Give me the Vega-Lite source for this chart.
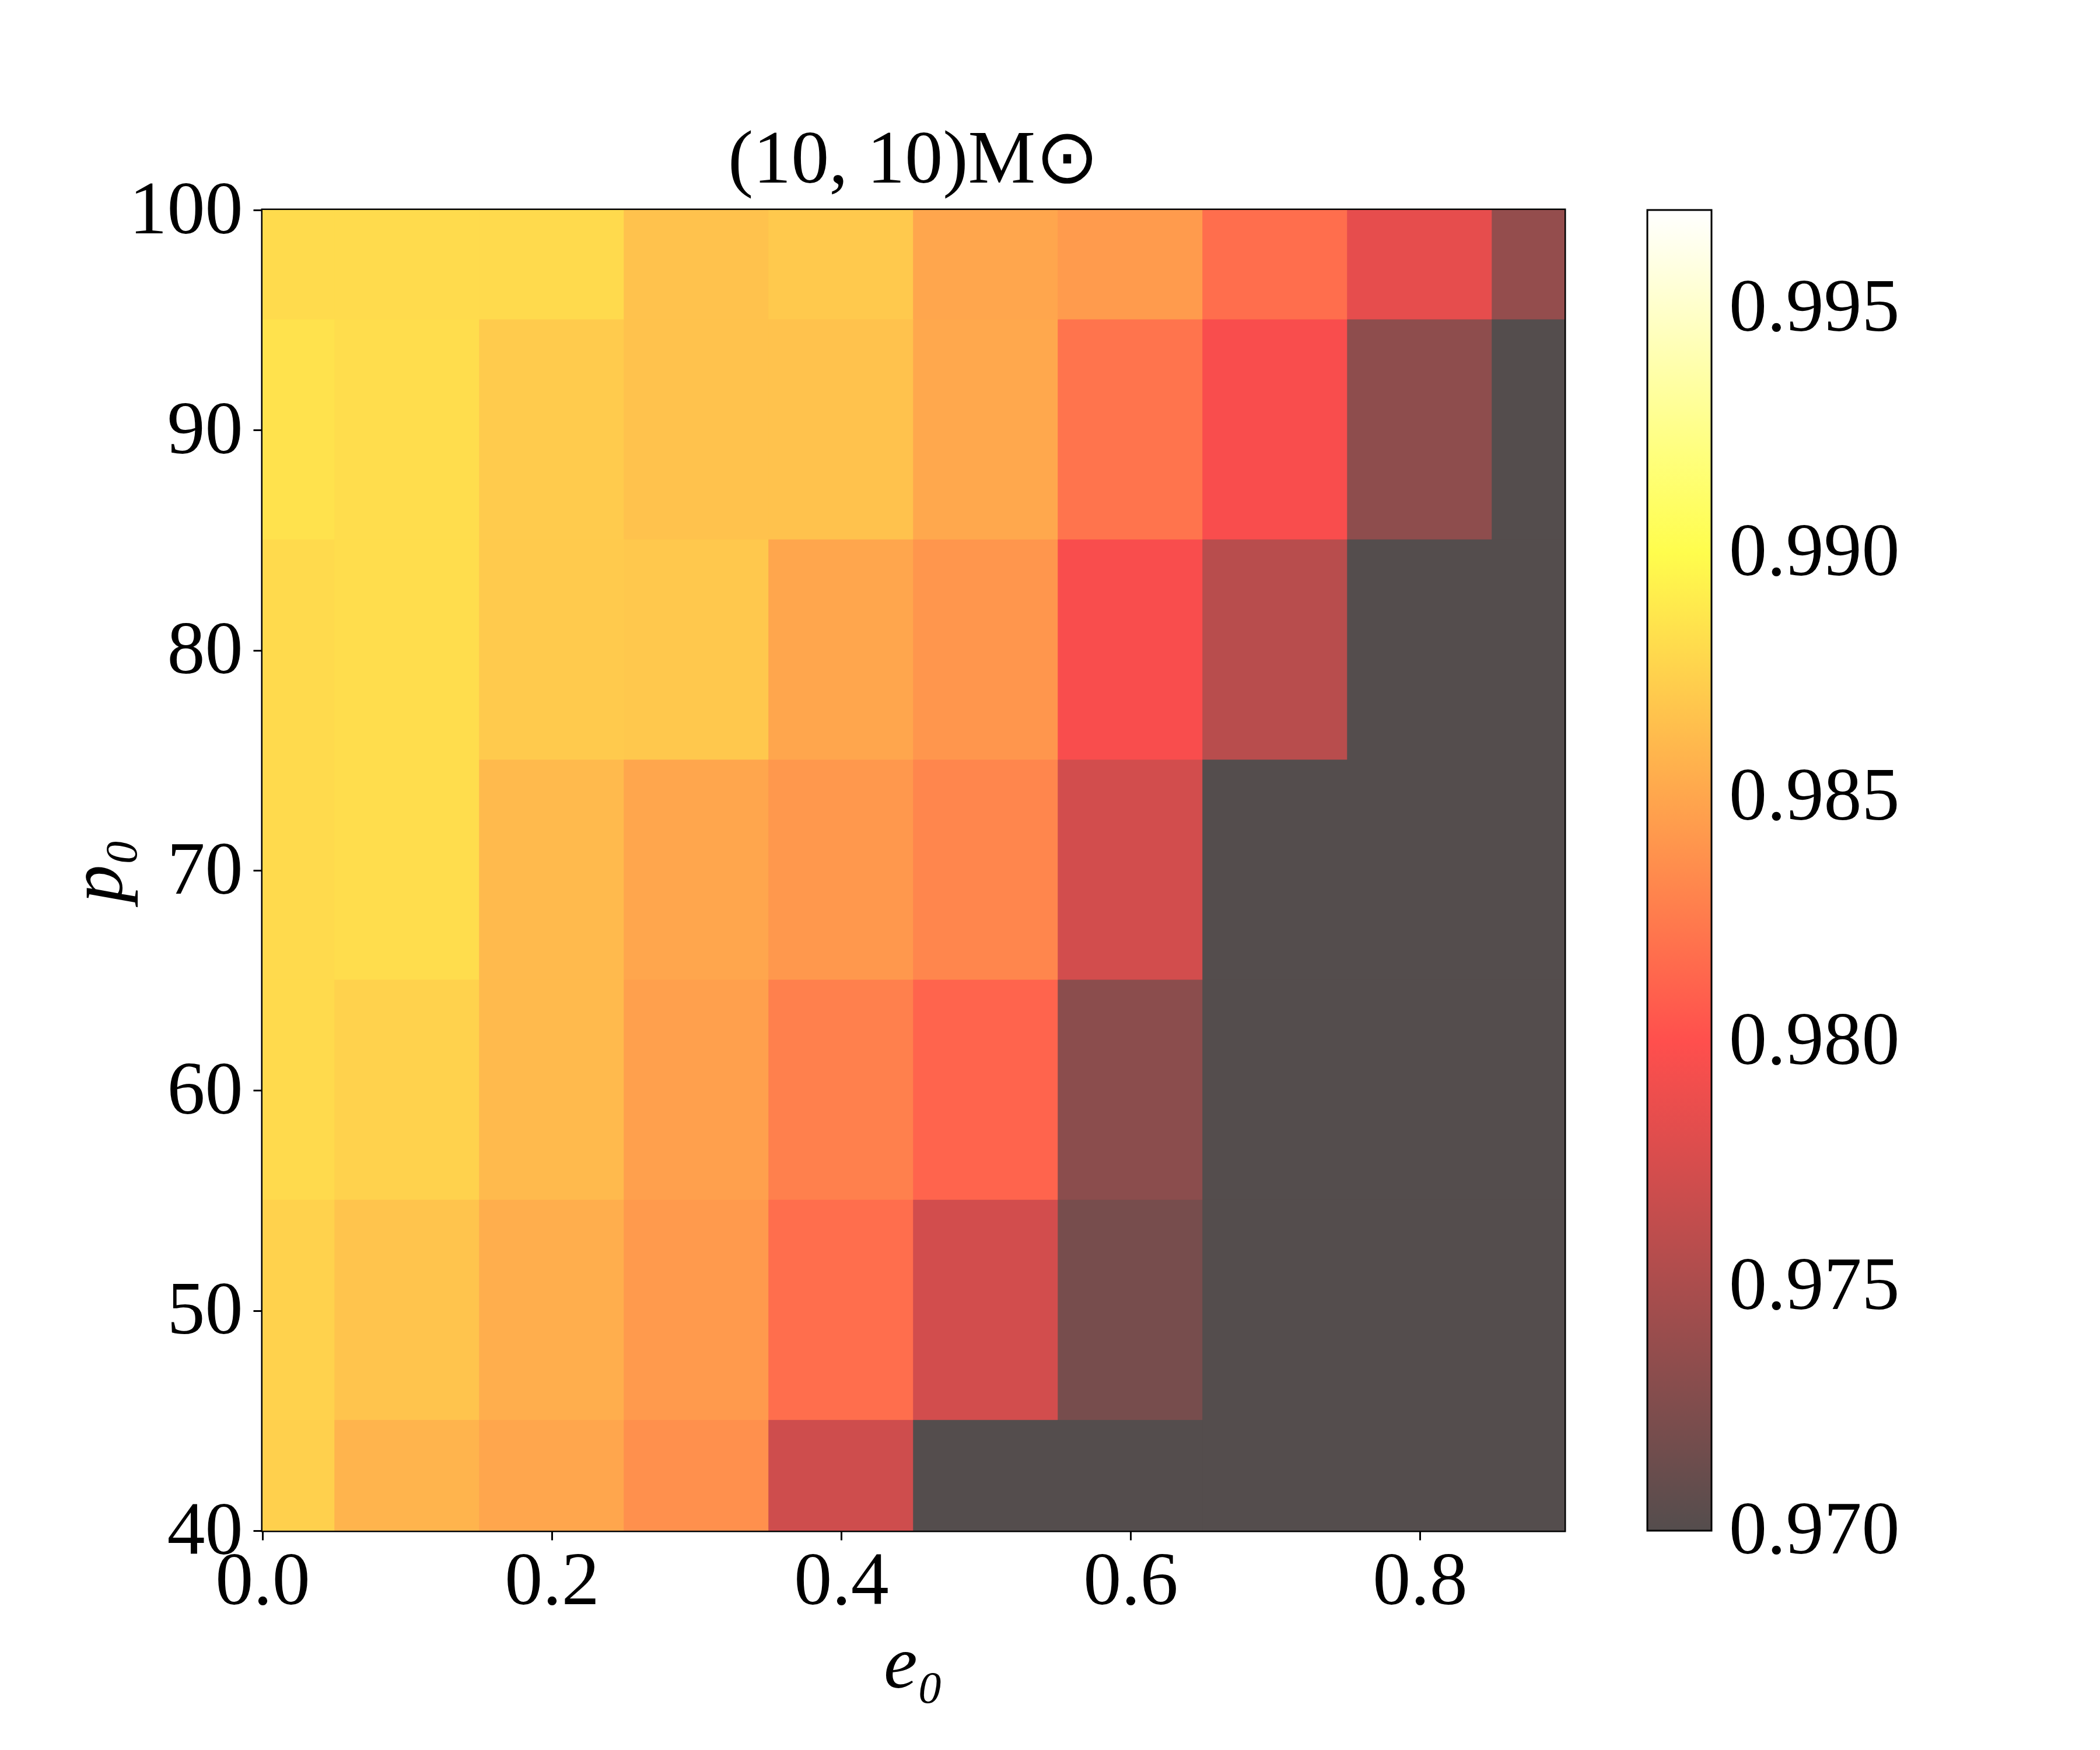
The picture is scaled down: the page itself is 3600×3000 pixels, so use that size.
{
  "$schema": "https://vega.github.io/schema/vega-lite/v6.json",
  "width": 2232,
  "height": 2264,
  "autosize": {"type": "none"},
  "padding": {"left": 450, "top": 360, "right": 918, "bottom": 376},
  "background": "white",
  "title": {
    "text": "(10, 10)M⊙",
    "font": "Liberation Serif",
    "fontSize": 130,
    "fontWeight": "normal",
    "color": "black",
    "anchor": "middle",
    "offset": -45
  },
  "config": {
    "view": {"stroke": "black", "strokeWidth": 5},
    "axis": {
      "grid": false,
      "labelFont": "Liberation Serif",
      "labelFontSize": 130,
      "labelColor": "black",
      "labelLimit": 1000,
      "tickColor": "black",
      "tickSize": 16,
      "tickWidth": 3,
      "domainColor": "black",
      "domainWidth": 3,
      "titleFont": "Liberation Serif",
      "titleFontSize": 130,
      "titleFontWeight": "normal",
      "titleFontStyle": "italic",
      "titleColor": "black",
      "zindex": 1
    }
  },
  "data": {
    "values": [
      {"e0": 0.0, "p0": 100, "match": 0.98807},
      {"e0": 0.1, "p0": 100, "match": 0.98807},
      {"e0": 0.2, "p0": 100, "match": 0.98801},
      {"e0": 0.3, "p0": 100, "match": 0.98663},
      {"e0": 0.4, "p0": 100, "match": 0.98703},
      {"e0": 0.5, "p0": 100, "match": 0.98501},
      {"e0": 0.6, "p0": 100, "match": 0.98438},
      {"e0": 0.7, "p0": 100, "match": 0.98179},
      {"e0": 0.8, "p0": 100, "match": 0.97842},
      {"e0": 0.9, "p0": 100, "match": 0.97369},

      {"e0": 0.0, "p0": 90, "match": 0.98847},
      {"e0": 0.1, "p0": 90, "match": 0.98818},
      {"e0": 0.2, "p0": 90, "match": 0.98714},
      {"e0": 0.3, "p0": 90, "match": 0.98663},
      {"e0": 0.4, "p0": 90, "match": 0.98663},
      {"e0": 0.5, "p0": 90, "match": 0.98513},
      {"e0": 0.6, "p0": 90, "match": 0.98213},
      {"e0": 0.7, "p0": 90, "match": 0.97951},
      {"e0": 0.8, "p0": 90, "match": 0.97335},
      {"e0": 0.9, "p0": 90, "match": 0.965},

      {"e0": 0.0, "p0": 80, "match": 0.98801},
      {"e0": 0.1, "p0": 80, "match": 0.98818},
      {"e0": 0.2, "p0": 80, "match": 0.98709},
      {"e0": 0.3, "p0": 80, "match": 0.98697},
      {"e0": 0.4, "p0": 80, "match": 0.98501},
      {"e0": 0.5, "p0": 80, "match": 0.98409},
      {"e0": 0.6, "p0": 80, "match": 0.97951},
      {"e0": 0.7, "p0": 80, "match": 0.97577},
      {"e0": 0.8, "p0": 80, "match": 0.965},
      {"e0": 0.9, "p0": 80, "match": 0.965},

      {"e0": 0.0, "p0": 70, "match": 0.98801},
      {"e0": 0.1, "p0": 70, "match": 0.98818},
      {"e0": 0.2, "p0": 70, "match": 0.98617},
      {"e0": 0.3, "p0": 70, "match": 0.98501},
      {"e0": 0.4, "p0": 70, "match": 0.98421},
      {"e0": 0.5, "p0": 70, "match": 0.98317},
      {"e0": 0.6, "p0": 70, "match": 0.97726},
      {"e0": 0.7, "p0": 70, "match": 0.965},
      {"e0": 0.8, "p0": 70, "match": 0.965},
      {"e0": 0.9, "p0": 70, "match": 0.965},

      {"e0": 0.0, "p0": 60, "match": 0.98801},
      {"e0": 0.1, "p0": 60, "match": 0.98755},
      {"e0": 0.2, "p0": 60, "match": 0.98617},
      {"e0": 0.3, "p0": 60, "match": 0.98467},
      {"e0": 0.4, "p0": 60, "match": 0.98283},
      {"e0": 0.5, "p0": 60, "match": 0.98121},
      {"e0": 0.6, "p0": 60, "match": 0.97317},
      {"e0": 0.7, "p0": 60, "match": 0.965},
      {"e0": 0.8, "p0": 60, "match": 0.965},
      {"e0": 0.9, "p0": 60, "match": 0.965},

      {"e0": 0.0, "p0": 50, "match": 0.98755},
      {"e0": 0.1, "p0": 50, "match": 0.98674},
      {"e0": 0.2, "p0": 50, "match": 0.98548},
      {"e0": 0.3, "p0": 50, "match": 0.98432},
      {"e0": 0.4, "p0": 50, "match": 0.98179},
      {"e0": 0.5, "p0": 50, "match": 0.97726},
      {"e0": 0.6, "p0": 50, "match": 0.97202},
      {"e0": 0.7, "p0": 50, "match": 0.965},
      {"e0": 0.8, "p0": 50, "match": 0.965},
      {"e0": 0.9, "p0": 50, "match": 0.965},

      {"e0": 0.0, "p0": 40, "match": 0.98743},
      {"e0": 0.1, "p0": 40, "match": 0.98582},
      {"e0": 0.2, "p0": 40, "match": 0.98501},
      {"e0": 0.3, "p0": 40, "match": 0.98375},
      {"e0": 0.4, "p0": 40, "match": 0.97703},
      {"e0": 0.5, "p0": 40, "match": 0.965},
      {"e0": 0.6, "p0": 40, "match": 0.965},
      {"e0": 0.7, "p0": 40, "match": 0.965},
      {"e0": 0.8, "p0": 40, "match": 0.965},
      {"e0": 0.9, "p0": 40, "match": 0.965}
    ]
  },
  "transform": [
    {"calculate": "datum.e0 - 0.0503", "as": "e_lo"},
    {"calculate": "datum.e0 + 0.0503", "as": "e_hi"},
    {"calculate": "datum.p0 - 5.03", "as": "p_lo"},
    {"calculate": "datum.p0 + 5.03", "as": "p_hi"}
  ],
  "mark": {"type": "rect", "clip": true, "strokeWidth": 0},
  "encoding": {
    "x": {
      "field": "e_lo",
      "type": "quantitative",
      "scale": {"domain": [0, 0.9], "nice": false, "zero": false},
      "axis": {
        "values": [0, 0.2, 0.4, 0.6, 0.8],
        "format": ".1f",
        "title": "e₀",
        "labelPadding": 6,
        "titlePadding": 14,
        "domain": true,
        "labelFlush": false
      }
    },
    "x2": {"field": "e_hi"},
    "y": {
      "field": "p_lo",
      "type": "quantitative",
      "scale": {"domain": [40, 100], "nice": false, "zero": false},
      "axis": {
        "values": [40, 50, 60, 70, 80, 90, 100],
        "format": "d",
        "title": "p₀",
        "labelPadding": 18,
        "titlePadding": 16,
        "domain": true,
        "labelFlush": false
      }
    },
    "y2": {"field": "p_hi"},
    "color": {
      "field": "match",
      "type": "quantitative",
      "scale": {
        "type": "linear",
        "domain": [0.970, 0.97986, 0.99014, 0.997],
        "range": ["#544D4D", "#FF4D4D", "#FFFF4D", "#FFFFFF"],
        "interpolate": "rgb",
        "clamp": true,
        "zero": false,
        "nice": false
      },
      "legend": {
        "type": "gradient",
        "orient": "none",
        "legendX": 2374,
        "legendY": 0,
        "direction": "vertical",
        "title": null,
        "padding": 0,
        "offset": 0,
        "gradientLength": 2264,
        "gradientThickness": 110,
        "gradientStrokeColor": "black",
        "gradientStrokeWidth": 3,
        "values": [0.970, 0.975, 0.980, 0.985, 0.990, 0.995],
        "format": ".3f",
        "labelFont": "Liberation Serif",
        "labelFontSize": 130,
        "labelColor": "black",
        "labelLimit": 1000,
        "labelOffset": 30,
        "labelOverlap": false,
        "encode": {"labels": {"update": {"baseline": {"value": "middle"}}}}
      }
    }
  }
}
